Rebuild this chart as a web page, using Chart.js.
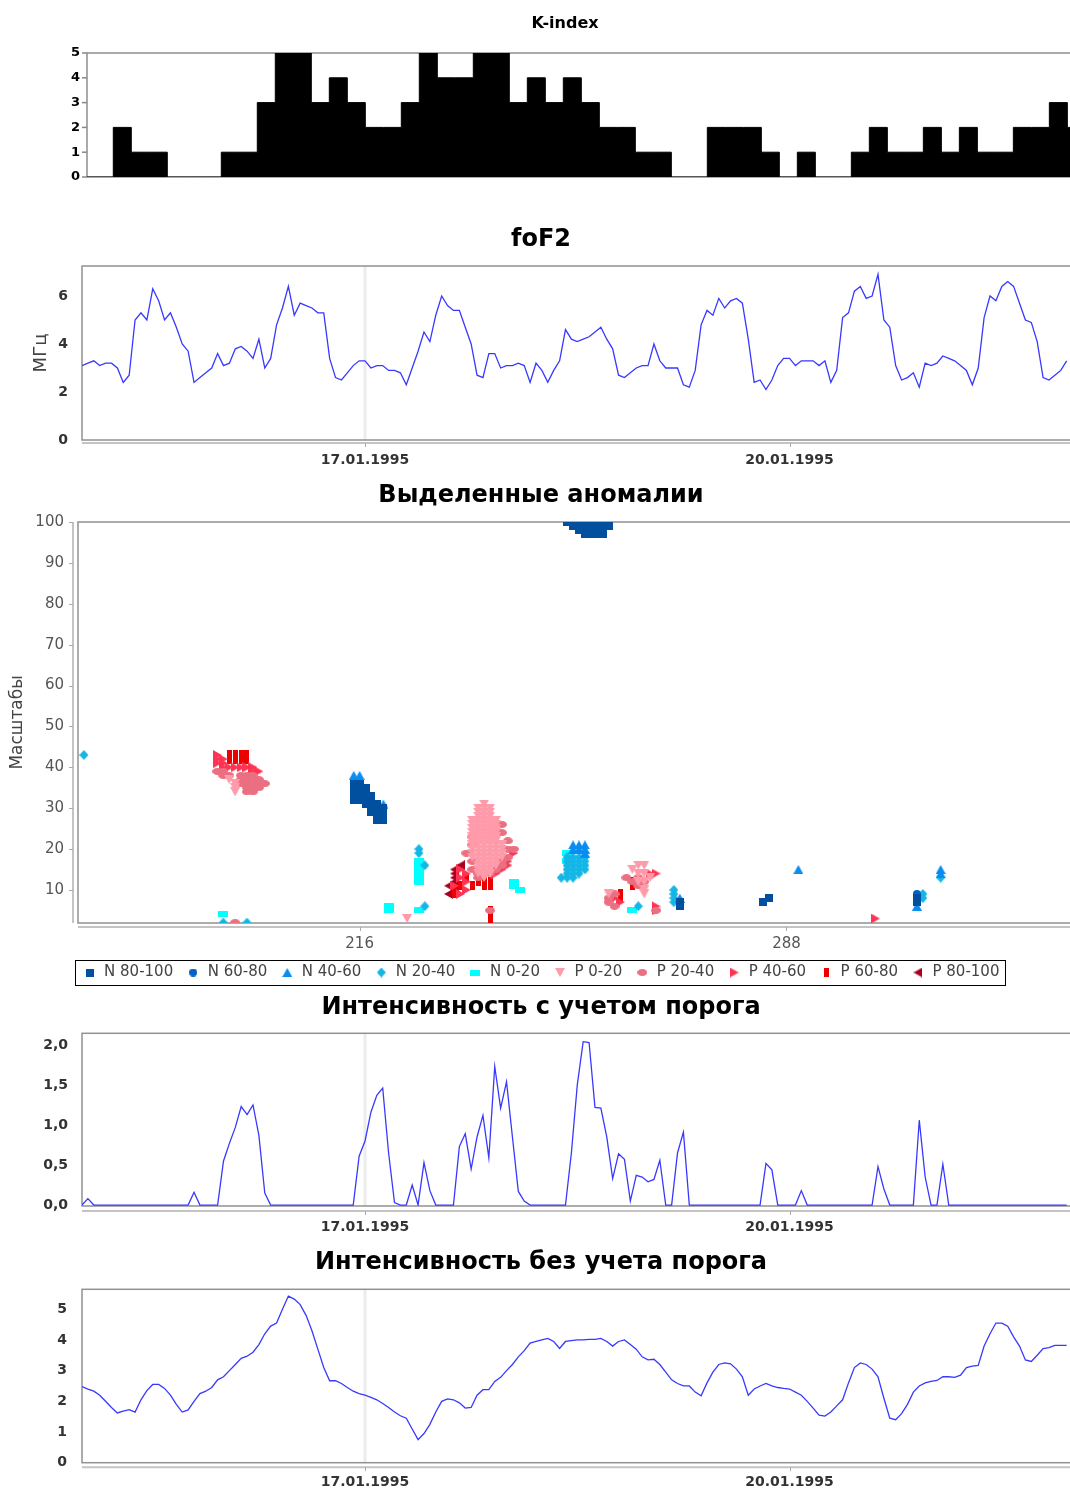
<!DOCTYPE html>
<html><head><meta charset="utf-8">
<script src="https://cdn.jsdelivr.net/npm/chart.js@4.4.1/dist/chart.umd.min.js"></script>
<style>
html,body{margin:0;padding:0;background:#fff;overflow:hidden;}
#wrap{position:relative;width:1070px;height:1491px;overflow:hidden;background:#fff;}
#wrap canvas{position:absolute;left:0;}
</style></head><body><div id="wrap">
<canvas id="c1" width="1130" height="195" style="top:0px"></canvas>
<canvas id="c2" width="1082" height="275" style="top:205px"></canvas>
<canvas id="c3" width="1082" height="525" style="top:470px"></canvas>
<canvas id="c4" width="1082" height="260" style="top:980px"></canvas>
<canvas id="c5" width="1082" height="256" style="top:1235px"></canvas>
</div>
<script>
// ---------------- DATA ----------------
// K-index, 3-hour bars (first two bars lie partly left of the first full bar)
const kIndexValues = [0,0,2,1,1,0,0,0,1,1,3,5,5,3,4,3,2,2,3,5,4,4,5,5,3,4,3,4,3,2,2,1,1,0,0,2,2,2,1,0,1,0,0,1,2,1,1,2,1,2,1,1,2,2,3,2];
const kIndexTicks = [0,1,2,3,4,5];

// hourly series (hour 0 = 15.01.1995 00:00)
const fof2Values = [3.1,3.2,3.3,3.1,3.2,3.2,3.0,2.4,2.7,5.0,
 5.3,5.0,6.3,5.8,5.0,5.3,4.7,4.0,3.7,2.4,
 2.6,2.8,3.0,3.6,3.1,3.2,3.8,3.9,3.7,3.4,
 4.2,3.0,3.4,4.8,5.5,6.4,5.2,5.7,5.6,5.5,
 5.3,5.3,3.4,2.6,2.5,2.8,3.1,3.3,3.3,3.0,
 3.1,3.1,2.9,2.9,2.8,2.3,3.0,3.7,4.5,4.1,
 5.2,6.0,5.6,5.4,5.4,4.7,4.0,2.7,2.6,3.6,
 3.6,3.0,3.1,3.1,3.2,3.1,2.4,3.2,2.9,2.4,
 2.9,3.3,4.6,4.2,4.1,4.2,4.3,4.5,4.7,4.2,
 3.8,2.7,2.6,2.8,3.0,3.1,3.1,4.0,3.3,3.0,
 3.0,3.0,2.3,2.2,2.9,4.8,5.4,5.2,5.9,5.5,
 5.8,5.9,5.7,4.2,2.4,2.5,2.1,2.5,3.1,3.4,
 3.4,3.1,3.3,3.3,3.3,3.1,3.3,2.4,2.9,5.1,
 5.3,6.2,6.4,5.9,6.0,6.9,5.0,4.7,3.1,2.5,
 2.6,2.8,2.2,3.2,3.1,3.2,3.5,3.4,3.3,3.1,
 2.9,2.3,3.0,5.1,6.0,5.8,6.4,6.6,6.4,5.7,
 5.0,4.9,4.1,2.6,2.5,2.7,2.9,3.3];

const intensityThreshold = [0,0.08,0,0,0,0,0,0,0,0,
 0,0,0,0,0,0,0,0,0,0.16,
 0,0,0,0,0.55,0.77,0.97,1.23,1.13,1.25,
 0.87,0.15,0,0,0,0,0,0,0,0,
 0,0,0,0,0,0,0,0.61,0.8,1.16,
 1.37,1.46,0.65,0.03,0,0,0.25,0,0.53,0.18,
 0,0,0,0,0.73,0.89,0.45,0.85,1.12,0.59,
 1.73,1.21,1.54,0.85,0.17,0.05,0,0,0,0,
 0,0,0,0.65,1.5,2.04,2.03,1.22,1.21,0.85,
 0.33,0.64,0.57,0.05,0.37,0.35,0.29,0.32,0.56,0,
 0,0.65,0.91,0,0,0,0,0,0,0,
 0,0,0,0,0,0,0.52,0.44,0,0,
 0,0,0.18,0,0,0,0,0,0,0,
 0,0,0,0,0,0.48,0.2,0,0,0,
 0,0,1.06,0.35,0,0,0.51,0,0,0,
 0,0,0,0,0,0,0,0,0,0,
 0,0,0,0,0,0,0,0];

const intensityNoThreshold = [2.48,2.4,2.33,2.2,2.0,1.8,1.62,1.68,1.73,1.65,
 2.05,2.35,2.55,2.55,2.42,2.2,1.9,1.65,1.72,2.0,
 2.25,2.33,2.45,2.7,2.8,3.0,3.2,3.4,3.47,3.6,
 3.85,4.2,4.45,4.55,5.0,5.43,5.33,5.15,4.8,4.3,
 3.7,3.1,2.67,2.67,2.58,2.45,2.33,2.25,2.2,2.13,
 2.05,1.93,1.8,1.65,1.53,1.45,1.1,0.75,0.95,1.25,
 1.65,2.0,2.08,2.05,1.95,1.78,1.8,2.2,2.38,2.38,
 2.65,2.78,3.0,3.2,3.45,3.65,3.9,3.95,4.0,4.05,
 3.95,3.72,3.95,3.98,4.0,4.0,4.02,4.02,4.05,3.95,
 3.8,3.95,4.0,3.85,3.7,3.45,3.35,3.37,3.2,2.95,
 2.7,2.58,2.5,2.5,2.3,2.18,2.6,2.95,3.2,3.25,
 3.22,3.05,2.8,2.2,2.4,2.5,2.58,2.5,2.45,2.42,
 2.4,2.3,2.2,2.0,1.78,1.55,1.52,1.65,1.85,2.05,
 2.6,3.1,3.25,3.2,3.05,2.8,2.1,1.45,1.4,1.6,
 1.9,2.3,2.5,2.6,2.65,2.68,2.8,2.8,2.78,2.85,
 3.1,3.15,3.17,3.8,4.2,4.55,4.55,4.45,4.1,3.8,
 3.35,3.3,3.5,3.72,3.75,3.82,3.82,3.82];

const dateTickHours = [48, 120];
const dateTickLabels = ['17.01.1995', '20.01.1995'];
const markerHour = 48;
const fof2Ticks = [0, 2, 4, 6];
const intensity1Ticks = [0, 0.5, 1, 1.5, 2];
const intensity2Ticks = [0, 1, 2, 3, 4, 5];

// anomalies scatter: [time index, scale]
const scatterXTicks = [216, 288];
const scatterYTicks = [10,20,30,40,50,60,70,80,90,100];
const anomalyLabels = ['N 80-100','N 60-80','N 40-60','N 20-40','N 0-20','P 0-20','P 20-40','P 40-60','P 60-80','P 80-100'];

const anomN80_100 = [[215,36],[215,35],[215,34],[215,33],[215,32],[216,36],[216,35],[216,34],[216,33],[216,32],
 [217,35],[217,34],[217,33],[217,32],[217,31],[218,33],[218,32],[218,31],[218,30],[218,29],
 [219,31],[219,30],[219,29],[219,28],[219,27],[220,30],[220,29],[220,28],[220,27],
 [251,100],[252,100],[253,100],[254,100],[255,100],[256,100],[257,100],[258,100],
 [252,99],[253,99],[254,99],[255,99],[256,99],[257,99],[258,99],
 [253,98],[254,98],[255,98],[256,98],[257,98],[254,97],[255,97],[256,97],[257,97],
 [270,7],[270,6],[284,7],[285,8],[310,8],[310,7]];
const anomN60_80 = [[310,9]];
const anomN40_60 = [[215,38],[216,38],[220,31],[252,21],[253,21],[254,21],[252,20],[253,20],[254,20],[254,19],
 [270,8],[290,15],[310,6],[314,15],[314,14]];
const anomN20_40 = [[169.5,43],[193,2],[197,2],[226,20],[226,19],[227,16],[227,6],
 [251,18],[252,18],[253,18],[254,18],[251,17],[252,17],[253,17],[254,17],[251,16],[252,16],[253,16],[254,16],
 [251,15],[252,15],[253,15],[254,15],[251,14],[252,14],[253,14],[250,13],[251,13],[252,13],
 [263,6],[269,10],[269,9],[269,8],[269,7],[311,9],[311,8],[314,13]];
const anomN0_20 = [[193,4],[221,6],[221,5],[226,17],[226,16],[226,15],[226,14],[226,13],[226,12],[226,5],
 [242,12],[242,11],[243,10],[251,19],[251,17],[262,5]];
const anomP0_20 = [[194,37],[195,36],[195,35],[195,34],[224,3],
 [237,31],[236,30],[237,30],[238,30],[236,29],[237,29],[238,29],[236,28],[237,28],[238,28],
 [235,27],[236,27],[237,27],[238,27],[239,27],[235,26],[236,26],[237,26],[238,26],[239,26],
 [235,25],[236,25],[237,25],[238,25],[239,25],[235,24],[236,24],[237,24],[238,24],[239,24],
 [235,23],[236,23],[237,23],[238,23],[239,23],[235,22],[236,22],[237,22],[238,22],[239,22],
 [235,21],[236,21],[237,21],[238,21],[239,21],[240,21],[235,20],[236,20],[237,20],[238,20],[239,20],[240,20],
 [235,19],[236,19],[237,19],[238,19],[239,19],[240,19],[235,18],[236,18],[237,18],[238,18],[239,18],[240,18],
 [236,17],[237,17],[238,17],[239,17],[236,16],[237,16],[238,16],[239,16],
 [236,15],[237,15],[238,15],[236,14],[237,14],[238,14],[237,13],
 [262,15],[263,16],[264,16],[263,14],[264,14],[265,13],[263,12],[264,12],[264,10],[264,9],[258,9]];
const anomP20_40 = [[192,39],[193,39],[193,38],[194,38],[196,38],[197,38],[198,38],[196,37],[197,37],[198,37],[199,37],
 [196,36],[197,36],[198,36],[199,36],[200,36],[197,35],[198,35],[199,35],[197,34],[198,34],[195,2],
 [235,23],[235,21],[234,19],[235,17],[235,15],[236,14],[236,13],[240,26],[240,24],[241,22],[241,20],[242,20],
 [241,18],[240,17],[240,16],[239,15],[238,14],[238,5],
 [261,13],[262,12],[263,11],[264,12],[263,13],[258,8],[258,7],[259,6],[259,9],[266,5]];
const anomP40_60 = [[192,43],[192,42],[193,42],[192,41],[193,41],[193,40],[194,40],[195,40],[196,40],[197,40],[198,40],[199,39],[198,39],
 [233,15],[233,13],[232,11],[233,9],[234,14],[234,12],[234,10],[241,17],[241,16],[240,15],[239,14],[242,19],
 [265,14],[266,14],[259,8],[260,7],[266,6],[266,5],[303,3]];
const anomP60_80 = [[194,43],[195,43],[196,43],[197,43],[194,42],[195,42],[196,42],[197,42],
 [236,12],[237,12],[238,12],[237,11],[238,11],[235,11],[232,10],[232,9],[233,11],[234,13],
 [238,5],[238,4],[238,3],[262,12],[262,11],[260,9],[260,8]];
const anomP80_100 = [[233,16],[232,15],[232,14],[232,13],[232,12],[231,11],[232,10],[231,9]];

const anomalySeries = [anomN80_100, anomN60_80, anomN40_60, anomN20_40, anomN0_20, anomP0_20, anomP20_40, anomP40_60, anomP60_80, anomP80_100];

// ---------------- STYLE ----------------
const FONT = "'DejaVu Sans', sans-serif";
Chart.defaults.font.family = FONT;
const LINE_BLUE = 'rgb(56,56,255)';
const anomalyColors = ['#00509f','#0062c4','#0a8df0','#14b6e6','#00ffff','#ff9aaa','#ea6f80','#ff3352','#ee0000','#a8001e'];
const anomalyShapes = [['rect',8,8],['circle',8,8],['up',10,9],['diamond',9,10],['rect',10,6],['down',10,9],['circle',10,7],['right',9,10],['rect',5,9],['left',9,10]];

function makeMarker(shape, color, w, h) {
  const c = document.createElement('canvas'); c.width = w; c.height = h;
  const g = c.getContext('2d'); g.fillStyle = color; g.beginPath();
  if (shape === 'rect') g.rect(0, 0, w, h);
  else if (shape === 'circle') g.ellipse(w/2, h/2, w/2, h/2, 0, 0, Math.PI*2);
  else if (shape === 'up') { g.moveTo(w/2, 0); g.lineTo(w, h); g.lineTo(0, h); }
  else if (shape === 'down') { g.moveTo(0, 0); g.lineTo(w, 0); g.lineTo(w/2, h); }
  else if (shape === 'right') { g.moveTo(0, 0); g.lineTo(w, h/2); g.lineTo(0, h); }
  else if (shape === 'left') { g.moveTo(w, 0); g.lineTo(0, h/2); g.lineTo(w, h); }
  else if (shape === 'diamond') { g.moveTo(w/2, 0); g.lineTo(w, h/2); g.lineTo(w/2, h); g.lineTo(0, h/2); }
  g.closePath(); g.fill();
  return c;
}

const decor = {
  id: 'decor',
  beforeDatasetsDraw(chart, args, o) {
    const ctx = chart.ctx, a = chart.chartArea;
    ctx.save();
    if (o.band !== undefined && o.band !== null) {
      const bx = chart.scales.x.getPixelForValue(o.band);
      ctx.fillStyle = '#ececec';
      ctx.fillRect(bx - 1.5, a.top, 3, a.bottom - a.top);
    }
    ctx.strokeStyle = o.frameColor || '#919191';
    ctx.lineWidth = o.frameWidth || 1.5;
    ctx.strokeRect(a.left, a.top, a.right - a.left, a.bottom - a.top);
    if (o.xLine) {
      const y = a.bottom + o.xLine;
      ctx.strokeStyle = '#c4c4c4'; ctx.lineWidth = 2;
      ctx.beginPath(); ctx.moveTo(a.left, y); ctx.lineTo(a.right, y); ctx.stroke();
      ctx.lineWidth = 1; ctx.strokeStyle = '#aaa';
      chart.scales.x.ticks.forEach(t => {
        const x = Math.round(chart.scales.x.getPixelForValue(t.value)) + 0.5;
        ctx.beginPath(); ctx.moveTo(x, y); ctx.lineTo(x, y + 4); ctx.stroke();
      });
    }
    if (o.yLine) {
      const x = a.left - o.yLine;
      ctx.strokeStyle = '#c4c4c4'; ctx.lineWidth = 2;
      ctx.beginPath(); ctx.moveTo(x, a.top); ctx.lineTo(x, a.bottom); ctx.stroke();
      ctx.lineWidth = 1; ctx.strokeStyle = '#aaa';
      chart.scales.y.ticks.forEach(t => {
        const y = Math.round(chart.scales.y.getPixelForValue(t.value)) + 0.5;
        ctx.beginPath(); ctx.moveTo(x - 4, y); ctx.lineTo(x, y); ctx.stroke();
      });
    }
    if (o.yTickMarks) {
      ctx.lineWidth = 1.5; ctx.strokeStyle = '#888';
      chart.scales.y.ticks.forEach(t => {
        const y = chart.scales.y.getPixelForValue(t.value);
        ctx.beginPath(); ctx.moveTo(a.left - o.yTickMarks, y); ctx.lineTo(a.left, y); ctx.stroke();
      });
    }
    ctx.restore();
  }
};

const legendBox = {
  id: 'legendBox',
  afterDraw(chart) {
    const hb = chart.legend && chart.legend.legendHitBoxes;
    if (!hb || !hb.length) return;
    let l = Infinity, r = -Infinity, t = Infinity, b = -Infinity;
    hb.forEach(h => { l = Math.min(l, h.left); r = Math.max(r, h.left + h.width); t = Math.min(t, h.top); b = Math.max(b, h.top + h.height); });
    const ctx = chart.ctx; ctx.save(); ctx.strokeStyle = '#000'; ctx.lineWidth = 1;
    ctx.strokeRect(Math.round(l - 8) + 0.5, Math.round(t - 5) + 0.5, Math.round(r - l + 13), Math.round(b - t + 10));
    ctx.restore();
  }
};

function fixedTicks(values) { return scale => { scale.ticks = values.map(v => ({ value: v })); }; }
function titleOpts(text, size, padTop, padBottom) {
  return { display: true, text, color: '#000', font: { size, weight: 'bold', family: FONT, lineHeight: 1.2 }, padding: { top: padTop, bottom: padBottom } };
}
const base = { responsive: false, maintainAspectRatio: false, animation: false, events: [], devicePixelRatio: 1 };
const noGrid = { display: false, drawTicks: false };
function dateLabel(v) { const i = dateTickHours.indexOf(v); return i >= 0 ? dateTickLabels[i] : ''; }

function timeXAxis(height, pad) {
  return { type: 'linear', min: 0, max: 169.6, grid: noGrid, border: { display: false },
    afterBuildTicks: fixedTicks(dateTickHours), afterFit: s => { s.height = height; },
    ticks: { autoSkip: false, maxRotation: 0, padding: pad, color: '#333', font: { size: 14, weight: 'bold' }, callback: dateLabel } };
}
function lineDataset(values) {
  return { data: values.map((v, i) => ({ x: i, y: v })), borderColor: LINE_BLUE, borderWidth: 1.3, pointRadius: 0, tension: 0, fill: false };
}

// ---------------- CHART 1: K-index ----------------
const kData = kIndexValues.map((v, i) => ({ x: i, y: v }));
kData.push({ x: kIndexValues.length, y: kIndexValues[kIndexValues.length - 1] });
new Chart(document.getElementById('c1'), {
  type: 'line',
  data: { datasets: [{ data: kData, stepped: 'before', fill: 'origin', backgroundColor: '#000', borderColor: '#000', borderWidth: 1, pointRadius: 0 }] },
  options: Object.assign({}, base, {
    layout: { padding: { bottom: 18 } },
    plugins: { legend: { display: false }, tooltip: { enabled: false },
      title: titleOpts('K-index', 16, 14.4, 19.4),
      decor: { frameColor: '#8f8f8f', frameWidth: 1.5, yTickMarks: 5 } },
    scales: {
      x: { type: 'linear', display: false, min: 0.54, max: 58.48 },
      y: { min: 0, max: 5, grid: noGrid, border: { display: false },
        afterBuildTicks: fixedTicks(kIndexTicks), afterFit: s => { s.width = 87; },
        ticks: { padding: 7, color: '#000', font: { size: 13, weight: 'bold' } } }
    }
  }),
  plugins: [decor]
});

// ---------------- CHART 2: foF2 ----------------
new Chart(document.getElementById('c2'), {
  type: 'line',
  data: { datasets: [lineDataset(fof2Values)] },
  options: Object.assign({}, base, {
    plugins: { legend: { display: false }, tooltip: { enabled: false },
      title: titleOpts('foF2', 24, 20.6, 11.6),
      decor: { band: markerHour, xLine: 3 } },
    scales: {
      x: timeXAxis(40, 12.4),
      y: { min: 0, max: 7.25, grid: noGrid, border: { display: false },
        afterBuildTicks: fixedTicks(fof2Ticks), afterFit: s => { s.width = 82; },
        title: { display: true, text: 'МГц', color: '#444', font: { size: 18 }, padding: { top: 31, bottom: 0 } },
        ticks: { padding: 14, color: '#333', font: { size: 14, weight: 'bold' } } }
    }
  }),
  plugins: [decor]
});

// ---------------- CHART 3: anomalies ----------------
const markers = anomalyShapes.map((s, i) => makeMarker(s[0], anomalyColors[i], s[1], s[2]));
new Chart(document.getElementById('c3'), {
  type: 'scatter',
  data: { datasets: anomalySeries.map((pts, i) => ({
    label: anomalyLabels[i], data: pts.map(p => ({ x: p[0], y: p[1] })),
    pointStyle: markers[i], pointRadius: 4, backgroundColor: anomalyColors[i], borderColor: anomalyColors[i], clip: 0 })) },
  options: Object.assign({}, base, {
    layout: { padding: { bottom: 5 } },
    plugins: { tooltip: { enabled: false },
      title: titleOpts('Выделенные аномалии', 24, 11.6, 11.6),
      legend: { position: 'bottom', labels: { usePointStyle: true, boxWidth: 14, padding: 13, color: '#444', font: { size: 15 } } },
      decor: { xLine: 4, yLine: 5 } },
    scales: {
      x: { type: 'linear', min: 168.5, max: 337, grid: noGrid, border: { display: false },
        afterBuildTicks: fixedTicks(scatterXTicks), afterFit: s => { s.height = 29; },
        ticks: { padding: 12, color: '#555', font: { size: 15 }, maxRotation: 0, autoSkip: false } },
      y: { min: 1.9, max: 100, grid: noGrid, border: { display: false },
        afterBuildTicks: fixedTicks(scatterYTicks), afterFit: s => { s.width = 78; },
        title: { display: true, text: 'Масштабы', color: '#444', font: { size: 17 }, padding: { top: 7.5, bottom: 0 } },
        ticks: { padding: 14, color: '#555', font: { size: 15 } } }
    }
  }),
  plugins: [decor, legendBox]
});

// ---------------- CHART 4: intensity with threshold ----------------
new Chart(document.getElementById('c4'), {
  type: 'line',
  data: { datasets: [lineDataset(intensityThreshold)] },
  options: Object.assign({}, base, {
    plugins: { legend: { display: false }, tooltip: { enabled: false },
      title: titleOpts('Интенсивность с учетом порога', 24, 13.6, 10.9),
      decor: { band: markerHour, xLine: 5 } },
    scales: {
      x: timeXAxis(34, 13.4),
      y: { min: -0.012, max: 2.145, grid: noGrid, border: { display: false },
        afterBuildTicks: fixedTicks(intensity1Ticks), afterFit: s => { s.width = 82; },
        ticks: { padding: 14, color: '#333', font: { size: 14, weight: 'bold' },
          callback: v => Number(v).toFixed(1).replace('.', ',') } }
    }
  }),
  plugins: [decor]
});

// ---------------- CHART 5: intensity without threshold ----------------
new Chart(document.getElementById('c5'), {
  type: 'line',
  data: { datasets: [lineDataset(intensityNoThreshold)] },
  options: Object.assign({}, base, {
    plugins: { legend: { display: false }, tooltip: { enabled: false },
      title: titleOpts('Интенсивность без учета порога', 24, 13.6, 11.9),
      decor: { band: markerHour, xLine: 4.5 } },
    scales: {
      x: timeXAxis(28.3, 11.7),
      y: { min: 0, max: 5.65, grid: noGrid, border: { display: false },
        afterBuildTicks: fixedTicks(intensity2Ticks), afterFit: s => { s.width = 82; },
        ticks: { padding: 15, color: '#333', font: { size: 14, weight: 'bold' } } }
    }
  }),
  plugins: [decor]
});
</script></body></html>
